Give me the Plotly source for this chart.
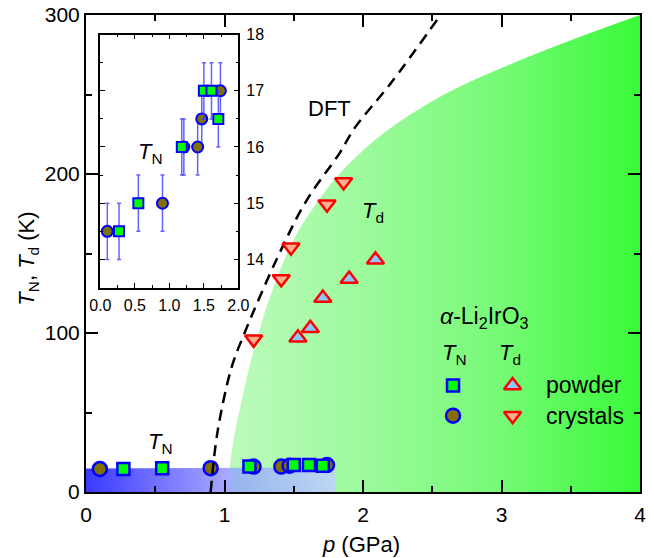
import plotly.graph_objects as go

# ---- data ----
# Neel temperature T_N (K) vs pressure p (GPa)
tn_powder_p = [0.27, 0.55, 1.18, 1.50, 1.61, 1.71]
tn_powder_T = [14.5, 15.0, 16.0, 17.0, 17.0, 16.5]
tn_crystal_p = [0.10, 0.90, 1.21, 1.41, 1.47, 1.74]
tn_crystal_T = [14.5, 15.0, 16.0, 16.0, 16.5, 17.0]
tn_err = 0.5

# dimerization temperature T_d (K) vs pressure p (GPa)
td_powder_p = [1.53, 1.62, 1.71, 1.90, 2.09]
td_powder_T = [97, 103, 122, 134, 146]
td_crystal_p = [1.21, 1.41, 1.48, 1.74, 1.86]
td_crystal_T = [96, 134, 154, 181, 195]

# DFT phase boundary
dft_p = [0.90, 0.95, 1.05, 1.14, 1.38, 1.59, 1.83, 1.94, 2.20, 2.56]
dft_T = [0, 38, 78, 99, 147, 183, 213, 229, 257, 300]

# boundary of the dimerized (green) region
dim_p = [1.02, 1.06, 1.12, 1.19, 1.26, 1.35, 1.52, 1.78, 1.99, 2.20, 2.63, 3.29, 4.0]
dim_T = [0, 30, 56, 82, 104, 128, 162, 195, 214, 229, 252, 277, 300]

# magnetically ordered (blue) band
mag_p = [0.0, 1.8]
mag_T = [14.8, 15.5]

FONT = "Liberation Sans, Arial, sans-serif"

SQ = dict(symbol="square", color="#00ff00", line=dict(color="#0000ff", width=2.5))
CI = dict(symbol="circle", color="#7f7000", line=dict(color="#0000ff", width=2.5))
TU = dict(symbol="triangle-up", color="#8cc8ff", line=dict(color="#ff0000", width=2.5))
TD = dict(symbol="triangle-down", color="#ffb090", line=dict(color="#ff0000", width=2.5))

fig = go.Figure()

# green dimerized region with horizontal gradient
fig.add_trace(go.Scatter(
    x=dim_p, y=dim_T, mode="lines", line=dict(width=0, shape="spline", smoothing=1),
    fill="tozeroy",
    fillgradient=dict(type="horizontal", start=1.02, stop=4.0,
                      colorscale=[[0, "rgb(188,250,188)"], [0.285, "rgb(160,250,160)"],
                                  [0.631, "rgb(120,250,120)"], [1, "rgb(52,250,52)"]]),
    showlegend=False, hoverinfo="skip"))

# blue antiferromagnetic band
fig.add_trace(go.Scatter(
    x=mag_p, y=mag_T, mode="lines", line=dict(width=0),
    fill="tozeroy",
    fillgradient=dict(type="horizontal", start=0.0, stop=1.8,
                      colorscale=[[0, "rgb(58,58,255)"], [0.565, "rgb(170,170,255)"],
                                  [0.575, "rgb(150,180,238)"], [1, "rgb(190,216,242)"]]),
    showlegend=False, hoverinfo="skip"))

# T_N points, main panel
fig.add_trace(go.Scatter(x=tn_crystal_p, y=tn_crystal_T, mode="markers",
                         marker=dict(size=14, **CI), showlegend=False))
fig.add_trace(go.Scatter(x=tn_powder_p, y=tn_powder_T, mode="markers",
                         marker=dict(size=12, **SQ), showlegend=False))

# DFT line
fig.add_trace(go.Scatter(x=dft_p, y=dft_T, mode="lines",
                         line=dict(color="black", width=2.5, dash="11px,7px", shape="spline"),
                         showlegend=False))

# T_d points
fig.add_trace(go.Scatter(x=td_crystal_p, y=td_crystal_T, mode="markers",
                         marker=dict(size=15, **TD), showlegend=False))
fig.add_trace(go.Scatter(x=td_powder_p, y=td_powder_T, mode="markers",
                         marker=dict(size=15, **TU), showlegend=False))

# legend keys
key_p = [2.65, 3.08]
key_T = [67, 48]
fig.add_trace(go.Scatter(x=[key_p[0]], y=[key_T[0]], mode="markers",
                         marker=dict(size=12, **SQ), showlegend=False))
fig.add_trace(go.Scatter(x=[key_p[0]], y=[key_T[1]], mode="markers",
                         marker=dict(size=14, **CI), showlegend=False))
fig.add_trace(go.Scatter(x=[key_p[1]], y=[key_T[0]], mode="markers",
                         marker=dict(size=15, **TU), showlegend=False))
fig.add_trace(go.Scatter(x=[key_p[1]], y=[key_T[1]], mode="markers",
                         marker=dict(size=15, **TD), showlegend=False))

# inset: T_N with error bars
err = dict(type="constant", value=tn_err, color="rgba(60,60,255,0.8)", thickness=1.5, width=2)
fig.add_trace(go.Scatter(x=tn_crystal_p, y=tn_crystal_T, mode="markers", xaxis="x2", yaxis="y2",
                         error_y=err, marker=dict(size=11, **{**CI, "line": dict(color="#0000ff", width=2)}),
                         showlegend=False))
fig.add_trace(go.Scatter(x=tn_powder_p, y=tn_powder_T, mode="markers", xaxis="x2", yaxis="y2",
                         error_y=err, marker=dict(size=10, **{**SQ, "line": dict(color="#0000ff", width=2)}),
                         showlegend=False))

axis_common = dict(showline=True, linecolor="black", mirror="ticks", ticks="inside",
                   showgrid=False, zeroline=False, tickcolor="black")

fig.update_layout(
    width=654, height=558,
    margin=dict(l=86, r=3, t=13, b=66),
    paper_bgcolor="white", plot_bgcolor="white",
    font=dict(family=FONT, color="black"),
    xaxis=dict(range=[0, 4], dtick=1, linewidth=2, ticklen=12, tickwidth=1.5,
               minor=dict(dtick=0.5, ticklen=6, tickwidth=1.5, ticks="inside", tickcolor="black"),
               tickfont=dict(size=21), ticklabelstandoff=3, **axis_common),
    yaxis=dict(range=[0, 300], dtick=100, linewidth=2, ticklen=12, tickwidth=1.5,
               minor=dict(dtick=50, ticklen=6, tickwidth=1.5, ticks="inside", tickcolor="black"),
               tickfont=dict(size=21), ticklabelstandoff=0, **axis_common),
    xaxis2=dict(domain=[0.026, 0.275], anchor="y2", range=[0, 2], dtick=0.5, tickformat=".1f",
                linewidth=1.5, ticklen=5, tickwidth=1,
                minor=dict(dtick=0.25, ticklen=3, ticks="inside", tickcolor="black"),
                tickfont=dict(size=16), ticklabelstandoff=2, **axis_common),
    yaxis2=dict(domain=[0.4286, 0.959], anchor="x2", side="right", range=[13.5, 18], dtick=1,
                linewidth=1.5, ticklen=5, tickwidth=1,
                minor=dict(dtick=0.5, ticklen=3, ticks="inside", tickcolor="black"),
                tickfont=dict(size=16), ticklabelstandoff=3, **axis_common),
)

ann = [
    dict(x=1.76, y=241, text="DFT", size=22),
    dict(x=2.07, y=176, text="<i>T</i><sub>d</sub>", size=22),
    dict(x=0.54, y=31, text="<i>T</i><sub>N</sub>", size=22),
    dict(x=2.88, y=110, text="<i>α</i>-Li<sub>2</sub>IrO<sub>3</sub>", size=23),
    dict(x=2.66, y=87, text="<i>T</i><sub>N</sub>", size=22),
    dict(x=3.06, y=87, text="<i>T</i><sub>d</sub>", size=22),
    dict(x=3.31, y=67, text="powder", size=23, xanchor="left"),
    dict(x=3.31, y=48, text="crystals", size=23, xanchor="left"),
]
for a in ann:
    fig.add_annotation(x=a["x"], y=a["y"], text=a["text"], showarrow=False,
                       xanchor=a.get("xanchor", "center"), yanchor="middle",
                       font=dict(size=a["size"], family=FONT, color="black"))

fig.add_annotation(x=0.73, y=15.9, xref="x2", yref="y2", text="<i>T</i><sub>N</sub>",
                   showarrow=False, font=dict(size=22, family=FONT, color="black"))

# axis titles
fig.add_annotation(xref="paper", yref="paper", x=0.497, y=-0.111, yanchor="middle",
                   text="<i>p</i> (GPa)", showarrow=False, font=dict(size=22, family=FONT))
fig.add_annotation(xref="paper", yref="paper", x=-0.104, y=0.49, xanchor="center", yanchor="middle",
                   textangle=-90, text="<i>T</i><sub>N</sub>, <i>T</i><sub>d</sub> (K)",
                   showarrow=False, font=dict(size=22, family=FONT))

fig.write_html("out.html")
